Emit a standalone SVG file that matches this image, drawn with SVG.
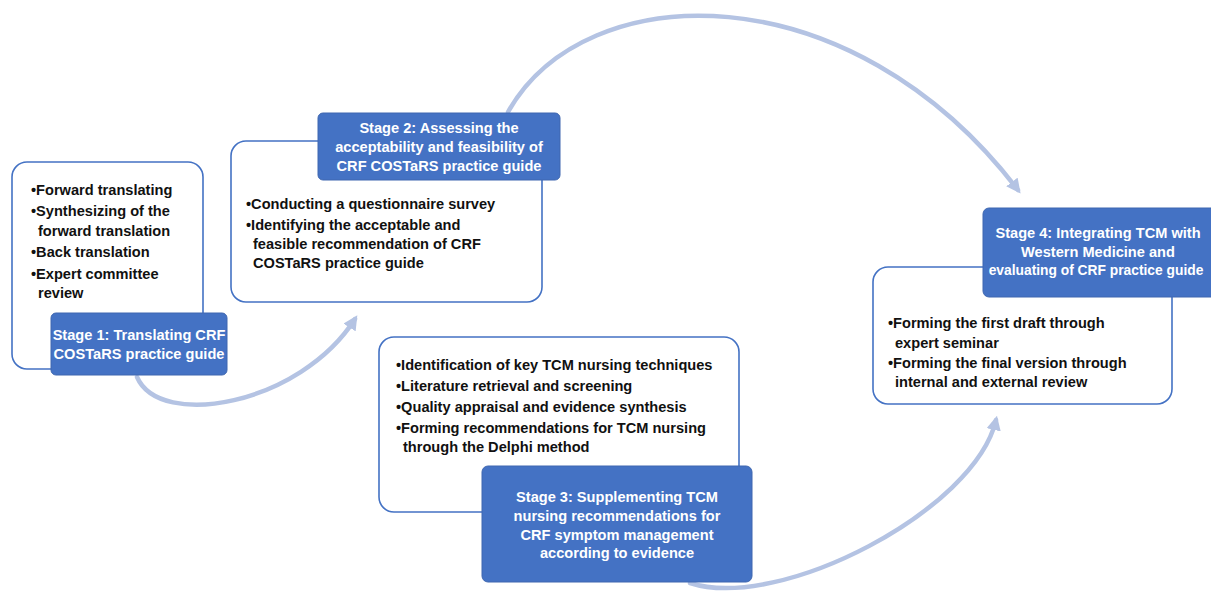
<svg xmlns="http://www.w3.org/2000/svg" width="1211" height="596" viewBox="0 0 1211 596">
<defs>
<style>
.box{fill:#fff;stroke:#4472C4;stroke-width:1.6}
.lab{fill:#4472C4;stroke:#3F67B0;stroke-width:1}
.t{font-family:"Liberation Sans",Arial,sans-serif;font-weight:bold;font-size:14.6px;fill:#111}
.w{font-family:"Liberation Sans",Arial,sans-serif;font-weight:bold;font-size:14.6px;fill:#fff;text-anchor:middle}
.arc{fill:none;stroke:#B4C3E3;stroke-width:4.5;stroke-linecap:round}
</style>
<marker id="ah" viewBox="0 0 10 10" refX="7" refY="5" markerWidth="3.2" markerHeight="3.2" orient="auto" markerUnits="strokeWidth">
<path d="M0,0 L10,5 L0,10 Z" fill="#B4C3E3"/>
</marker>
</defs>
<rect width="1211" height="596" fill="#fff"/>
<g id="connectors">
<path class="arc" d="M137,377 C160,430 300,405 355,319" marker-end="url(#ah)"/>
<path class="arc" d="M508,112 C585,-25 850,-30 1018,190" marker-end="url(#ah)"/>
<path class="arc" d="M690,583 C780,612 975,510 996,420" marker-end="url(#ah)"/>
</g>
<g id="stage1">
<rect class="box" x="12" y="162" width="191" height="207" rx="15"/>
<text class="t" x="31" y="195">•Forward translating</text>
<text class="t" x="31" y="216">•Synthesizing of the</text>
<text class="t" x="38" y="236">forward translation</text>
<text class="t" x="31" y="257">•Back translation</text>
<text class="t" x="31" y="279">•Expert committee</text>
<text class="t" x="38" y="298">review</text>
<rect class="lab" x="51" y="313" width="176" height="62" rx="5"/>
<text class="w" x="139" y="340">Stage 1: Translating CRF</text>
<text class="w" x="139" y="359">COSTaRS practice guide</text>
</g>
<g id="stage2">
<rect class="box" x="231" y="141" width="311" height="161" rx="15"/>
<text class="t" x="246" y="209">•Conducting a questionnaire survey</text>
<text class="t" x="246" y="230">•Identifying the acceptable and</text>
<text class="t" x="253" y="249">feasible recommendation of CRF</text>
<text class="t" x="253" y="268">COSTaRS practice guide</text>
<rect class="lab" x="318" y="113" width="242" height="67" rx="5"/>
<text class="w" x="439" y="133">Stage 2: Assessing the</text>
<text class="w" x="439" y="152">acceptability and feasibility of</text>
<text class="w" x="439" y="171">CRF COSTaRS practice guide</text>
</g>
<g id="stage3">
<rect class="box" x="379" y="337" width="360" height="175" rx="15"/>
<text class="t" x="396" y="370">•Identification of key TCM nursing techniques</text>
<text class="t" x="396" y="391">•Literature retrieval and screening</text>
<text class="t" x="396" y="412">•Quality appraisal and evidence synthesis</text>
<text class="t" x="396" y="433">•Forming recommendations for TCM nursing</text>
<text class="t" x="403" y="452">through the Delphi method</text>
<rect class="lab" x="482" y="466" width="270" height="116" rx="6"/>
<text class="w" x="617" y="502">Stage 3: Supplementing TCM</text>
<text class="w" x="617" y="521">nursing recommendations for</text>
<text class="w" x="617" y="540">CRF symptom management</text>
<text class="w" x="617" y="558">according to evidence</text>
</g>
<g id="stage4">
<rect class="box" x="873" y="267" width="299" height="137" rx="15"/>
<text class="t" x="888" y="328">•Forming the first draft through</text>
<text class="t" x="895" y="348">expert seminar</text>
<text class="t" x="888" y="368">•Forming the final version through</text>
<text class="t" x="895" y="387">internal and external review</text>
<rect class="lab" x="983" y="208" width="240" height="89" rx="6"/>
<text class="w" x="1098" y="238">Stage 4: Integrating TCM with</text>
<text class="w" x="1098" y="257">Western Medicine and</text>
<text class="w" x="1096" y="275" style="font-size:13.8px">evaluating of CRF practice guide</text>
</g>
</svg>
